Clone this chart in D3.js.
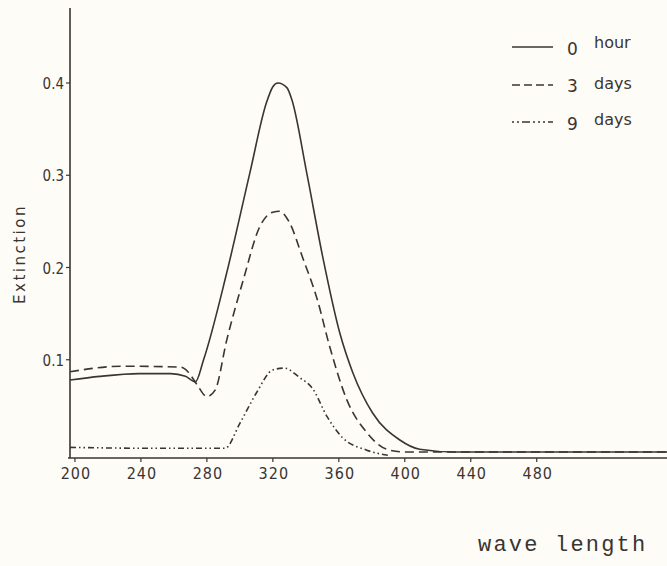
<!DOCTYPE html>
<html><head><meta charset="utf-8">
<script src="https://cdn.jsdelivr.net/npm/d3@7"></script>
<style>body{margin:0;background:#fdfcf7;} svg{display:block;}</style>
</head><body>
<script>
// wavelengths (nm) and extinction values
const hour0W = [197,215,239,258,267,273,278,292,306,316,320,323,328.5,331.5,340.6,350.3,360.6,368.5,380.6,397,409,430,491,559];
const hour0V = [0.078,0.082,0.085,0.085,0.082,0.076,0.100,0.194,0.302,0.378,0.396,0.400,0.395,0.382,0.302,0.211,0.129,0.086,0.042,0.013,0.003,0,0,0];
const days3W = [197,229,264,268.5,274,280,285,292,302,312,320,324,330,338,347,354.5,365,377,389,400,559];
const days3V = [0.087,0.093,0.092,0.087,0.073,0.060,0.067,0.121,0.186,0.244,0.260,0.261,0.249,0.211,0.165,0.114,0.056,0.021,0.003,0,0];
const days9W = [197,250,291,300,310,320,327,336,344,353,362,377,391];
const days9V = [0.005,0.004,0.004,0.031,0.064,0.089,0.091,0.081,0.069,0.038,0.016,0.002,-0.004];
const xTicks = [200,240,280,320,360,400,440,480];
const yTicks = [0.1,0.2,0.3,0.4];
const legendLabels = [["0","hour"],["3","days"],["9","days"]];

const W=667,H=566, ink="#3b3431";
const svg=d3.select("body").append("svg").attr("width",W).attr("height",H);
const x=d3.scaleLinear().domain([197,559]).range([70,667]);
const y=d3.scaleLinear().domain([0,0.4]).range([452,83]);
const axisY=458;

// axes lines
svg.append("line").attr("x1",70).attr("x2",70).attr("y1",8).attr("y2",axisY).attr("stroke",ink).attr("stroke-width",1.6);
svg.append("line").attr("x1",68).attr("x2",667).attr("y1",axisY).attr("y2",axisY).attr("stroke",ink).attr("stroke-width",1.6);

// y ticks
const yg=svg.append("g");
yTicks.forEach(t=>{
  yg.append("line").attr("x1",66).attr("x2",70).attr("y1",y(t)).attr("y2",y(t)).attr("stroke",ink).attr("stroke-width",1.2);
  yg.append("text").attr("x",64).attr("y",y(t)+6).attr("text-anchor","end")
    .attr("font-family","DejaVu Sans Condensed, DejaVu Sans").attr("font-size",15).attr("fill",ink).text(t.toFixed(1));
});
// x ticks
const xg=svg.append("g");
xTicks.forEach(t=>{
  xg.append("line").attr("x1",x(t)).attr("x2",x(t)).attr("y1",axisY).attr("y2",axisY+4).attr("stroke",ink).attr("stroke-width",1.2);
  xg.append("text").attr("x",x(t)+1).attr("y",479).attr("text-anchor","middle")
    .attr("font-family","DejaVu Sans Condensed, DejaVu Sans").attr("font-size",16).attr("letter-spacing",1).attr("fill",ink).text(t);
});

// axis titles
svg.append("text").attr("transform","translate(25,254) rotate(-90)").attr("text-anchor","middle")
  .attr("font-family","DejaVu Sans").attr("font-size",15).attr("letter-spacing",2.5).attr("fill",ink).text("Extinction");
svg.append("text").attr("x",478).attr("y",551).attr("font-family","Liberation Mono").attr("font-size",22)
  .attr("letter-spacing",2.2).attr("fill",ink).text("wave length");

// curves
const line=d3.line().x(d=>x(d[0])).y(d=>y(d[1])).curve(d3.curveMonotoneX);
const series=[
  {w:hour0W,v:hour0V,dash:null},
  {w:days3W,v:days3V,dash:"9,5"},
  {w:days9W,v:days9V,dash:"6,3,1.5,3,1.5,3"}
];
series.forEach(s=>{
  svg.append("path").datum(s.w.map((w,i)=>[w,s.v[i]]))
    .attr("d",line).attr("fill","none").attr("stroke",ink).attr("stroke-width",1.6)
    .attr("stroke-dasharray",s.dash);
});

// legend
const ly=[47,85,122];
const numBase=[55,92,130], wordBase=[48,89,125];
series.forEach((s,i)=>{
  svg.append("line").attr("x1",512).attr("x2",553).attr("y1",ly[i]).attr("y2",ly[i])
    .attr("stroke",ink).attr("stroke-width",1.6).attr("stroke-dasharray",i==0?null:(i==1?"8,4":"2,3,2,3,8,3,2,3"));
  svg.append("text").attr("x",567).attr("y",numBase[i]).attr("font-family","DejaVu Sans").attr("font-size",17)
    .attr("fill",ink).text(legendLabels[i][0]);
  svg.append("text").attr("x",594).attr("y",wordBase[i]).attr("font-family","DejaVu Sans").attr("font-size",16)
    .attr("fill",ink).text(legendLabels[i][1]);
});
</script>
</body></html>
